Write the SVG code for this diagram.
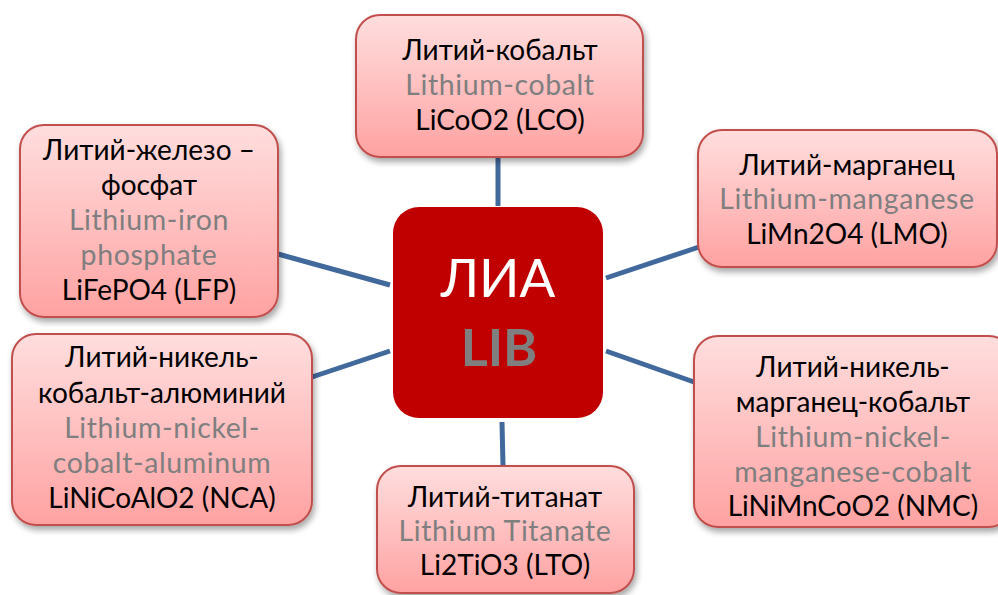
<svg xmlns="http://www.w3.org/2000/svg" width="998" height="595" viewBox="0 0 998 595">
<style>
.box{fill:url(#pg);stroke:#C0504D;stroke-width:2;filter:url(#sh)}
.t{font-family:Lato,"Liberation Sans","Noto Sans",sans-serif;font-size:28px;text-anchor:middle}
.k{fill:#000}
.g{fill:#7F7F7F;font-size:28.5px;letter-spacing:0.6px}
.conn line{stroke:#41699C;stroke-width:5}
</style>
<defs>
<linearGradient id="pg" x1="0" y1="0" x2="0" y2="1">
<stop offset="0" stop-color="#FFDEDE"/>
<stop offset="1" stop-color="#FFA2A2"/>
</linearGradient>
<filter id="sh" x="-10%" y="-10%" width="125%" height="125%">
<feDropShadow dx="2" dy="4" stdDeviation="3" flood-color="#000" flood-opacity="0.35"/>
</filter>
</defs>
<rect width="998" height="595" fill="#fff"/>
<g id="connectors" class="conn">
<line x1="498" y1="158" x2="498" y2="206"/>
<line x1="502" y1="422" x2="503" y2="466"/>
<line x1="278" y1="254" x2="390" y2="285"/>
<line x1="312" y1="377" x2="390" y2="351"/>
<line x1="606" y1="278" x2="699" y2="247"/>
<line x1="606" y1="351" x2="694" y2="382"/>
</g>
<g id="center">
<rect x="393" y="207" width="210" height="211" rx="26" fill="#C00000"/>
<text class="t" x="498" y="297" style="font-size:53px" fill="#fff">ЛИА</text>
<text class="t" x="499" y="366" style="font-size:52px;font-weight:bold" fill="#7F7F7F">LIB</text>
</g>
<g id="lco">
<rect class="box" x="356" y="15" width="287" height="142" rx="24"/>
<text class="t k" x="500" y="60">Литий-кобальт</text>
<text class="t g" x="500" y="95">Lithium-cobalt</text>
<text class="t k" x="500" y="130">LiCoO2 (LCO)</text>
</g>
<g id="lfp">
<rect class="box" x="20" y="125" width="258" height="192" rx="24"/>
<text class="t k" x="149" y="160">Литий-железо –</text>
<text class="t k" x="149" y="195">фосфат</text>
<text class="t g" x="149" y="230">Lithium-iron</text>
<text class="t g" x="149" y="265">phosphate</text>
<text class="t k" x="149" y="300">LiFePO4 (LFP)</text>
</g>
<g id="lmo">
<rect class="box" x="698" y="130" width="299" height="137" rx="24"/>
<text class="t k" x="847" y="175">Литий-марганец</text>
<text class="t g" x="847" y="209">Lithium-manganese</text>
<text class="t k" x="847" y="244">LiMn2O4 (LMO)</text>
</g>
<g id="nca">
<rect class="box" x="12" y="334" width="300" height="191" rx="24"/>
<text class="t k" x="162" y="367">Литий-никель-</text>
<text class="t k" x="162" y="403">кобальт-алюминий</text>
<text class="t g" x="162" y="438">Lithium-nickel-</text>
<text class="t g" x="162" y="473">cobalt-aluminum</text>
<text class="t k" x="162" y="508">LiNiCoAlO2 (NCA)</text>
</g>
<g id="nmc">
<rect class="box" x="694" y="336" width="319" height="191" rx="24"/>
<text class="t k" x="853" y="377">Литий-никель-</text>
<text class="t k" x="853" y="412">марганец-кобальт</text>
<text class="t g" x="853" y="447">Lithium-nickel-</text>
<text class="t g" x="853" y="482">manganese-cobalt</text>
<text class="t k" x="853" y="516">LiNiMnCoO2 (NMC)</text>
</g>
<g id="lto">
<rect class="box" x="377" y="466" width="257" height="127" rx="24"/>
<text class="t k" x="505" y="507">Литий-титанат</text>
<text class="t g" x="505" y="541">Lithium Titanate</text>
<text class="t k" x="505" y="575">Li2TiO3 (LTO)</text>
</g>
</svg>
